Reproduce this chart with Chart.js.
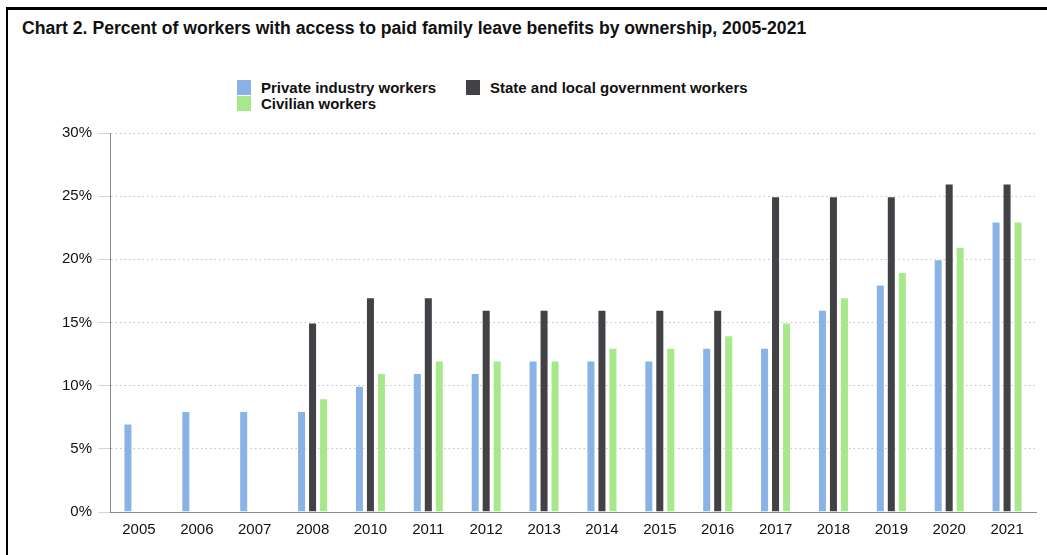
<!DOCTYPE html>
<html>
<head>
<meta charset="utf-8">
<script src="https://cdn.jsdelivr.net/npm/chart.js@4"></script>
<style>
  body { margin: 0; background: #fff; font-family: "Liberation Sans", Arial, sans-serif; }
  #frame { position: absolute; left: 6px; top: 7px; width: 1100px; height: 700px;
           border-left: 2px solid #000; border-top: 3px solid #000; }
  #title { position: absolute; left: 22px; top: 18px; font-size: 17.6px; font-weight: bold; color: #111; white-space: nowrap; }
  #legend { position: absolute; left: 237px; top: 80px; font-size: 15px; font-weight: bold; color: #111; }
  .item { position: absolute; white-space: nowrap; height: 16px; line-height: 16px; }
  .box { position: absolute; left: 0; top: 0; width: 14px; height: 15px; }
  .item span { position: absolute; left: 24px; top: 0; }
  #wrap { position: absolute; left: 0; top: 0; width: 1047px; height: 555px; }
</style>
</head>
<body>
<div id="frame"></div>
<div id="title">Chart 2. Percent of workers with access to paid family leave benefits by ownership, 2005-2021</div>
<div id="legend"></div>
<div id="wrap"><canvas id="c"></canvas></div>
<script>
const years = ["2005", "2006", "2007", "2008", "2010", "2011", "2012", "2013", "2014", "2015", "2016", "2017", "2018", "2019", "2020", "2021"];
const privateWorkers = [7, 8, 8, 8, 10, 11, 11, 12, 12, 12, 13, 13, 16, 18, 20, 23];
const stateLocalWorkers = [null, null, null, 15, 17, 17, 16, 16, 16, 16, 16, 25, 25, 25, 26, 26];
const civilianWorkers = [null, null, null, 9, 11, 12, 12, 12, 13, 13, 14, 15, 17, 19, 21, 23];
const seriesNames = ["Private industry workers", "State and local government workers", "Civilian workers"];
const seriesColors = ["#89b3e6", "#424146", "#a6e88a"];
const yTicks = [0, 5, 10, 15, 20, 25, 30];

// legend (html, two columns like the original)
const legendPos = [[0, 0], [229, 0], [0, 16]];
const legend = document.getElementById("legend");
seriesNames.forEach((name, i) => {
  const d = document.createElement("div");
  d.className = "item";
  d.style.left = legendPos[i][0] + "px";
  d.style.top = legendPos[i][1] + "px";
  d.innerHTML = '<div class="box" style="background:' + seriesColors[i] + '"></div><span>' + name + '</span>';
  legend.appendChild(d);
});

const ctx = document.getElementById("c").getContext("2d");
const sets = [privateWorkers, stateLocalWorkers, civilianWorkers].map((data, i) => ({
  label: seriesNames[i],
  data: data,
  backgroundColor: seriesColors[i],
  borderColor: "rgba(255,255,255,0.5)",
  borderWidth: 1,
  barPercentage: 0.82,
  categoryPercentage: 0.57,
}));

new Chart(ctx, {
  type: "bar",
  data: { labels: years, datasets: sets },
  options: {
    responsive: true,
    maintainAspectRatio: false,
    animation: false,
    layout: { padding: { top: 133, right: 11, left: 0, bottom: 0 } },
    plugins: { legend: { display: false }, title: { display: false }, tooltip: { enabled: false } },
    scales: {
      x: {
        grid: { display: false, drawTicks: false },
        border: { display: true, color: "#8a8a8a", width: 1 },
        ticks: { color: "#111", font: { family: "Liberation Sans", size: 15 }, padding: 9 },
        afterFit: (s) => { s.height = 43; },
      },
      y: {
        min: 0,
        max: 30,
        afterBuildTicks: (s) => { s.ticks = yTicks.map((v) => ({ value: v })); },
        grid: {
          color: "#c2c2c2",
          lineWidth: 1,
          tickLength: 12,
          tickColor: "#c9d6e8",
          tickBorderDash: [],
        },
        border: { display: true, color: "#8a8a8a", width: 1, dash: [1.5, 3] },
        ticks: {
          color: "#111",
          font: { family: "Liberation Sans", size: 15 },
          padding: 6,
          callback: (v) => v + "%",
        },
        afterFit: (s) => { s.width = 110; },
      },
    },
  },
});
</script>
</body>
</html>
